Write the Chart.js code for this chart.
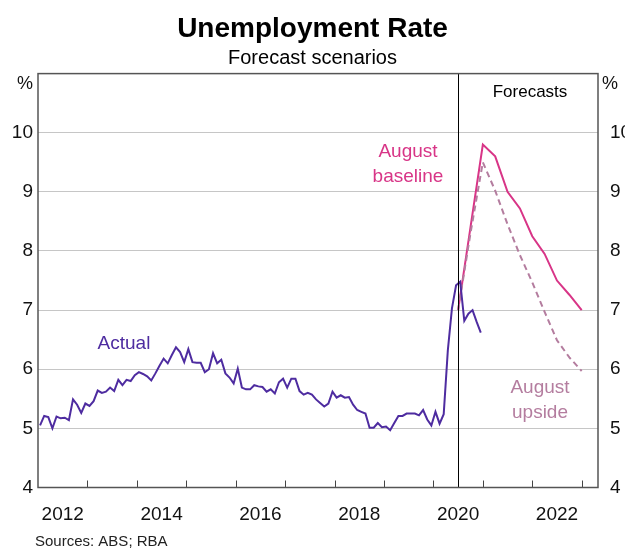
<!DOCTYPE html>
<html>
<head>
<meta charset="utf-8">
<script src="https://cdn.jsdelivr.net/npm/chart.js@4"></script>
<style>
  html, body { margin:0; padding:0; background:#fff; }
  #wrap { width:625px; height:548px; }
</style>
</head>
<body>
<div id="wrap"><canvas id="chart" width="625" height="548"></canvas></div>
<script>
/* ---- data ---- */
const actualStart = 2012;   // monthly, from Jan 2012
const actualRate = [
  5.05, 5.21, 5.19, 5.00, 5.20, 5.17, 5.18, 5.14, 5.49, 5.40, 5.26, 5.42,
  5.38, 5.46, 5.64, 5.60, 5.62, 5.69, 5.63, 5.82, 5.73, 5.82, 5.80, 5.90,
  5.95, 5.92, 5.88, 5.81, 5.93, 6.06, 6.18, 6.10, 6.24, 6.37, 6.29, 6.12,
  6.34, 6.12, 6.11, 6.11, 5.95, 6.00, 6.27, 6.10, 6.16, 5.93, 5.86, 5.76,
  6.01, 5.69, 5.66, 5.66, 5.73, 5.71, 5.70, 5.62, 5.66, 5.59, 5.78, 5.84,
  5.69, 5.84, 5.84, 5.63, 5.57, 5.60, 5.57, 5.49, 5.43, 5.37, 5.42, 5.62,
  5.52, 5.56, 5.52, 5.53, 5.40, 5.31, 5.28, 5.25, 5.01, 5.01, 5.09, 5.02,
  5.03, 4.97, 5.09, 5.21, 5.21, 5.25, 5.25, 5.25, 5.22, 5.31, 5.15, 5.05,
  5.28, 5.08, 5.24, 6.32, 7.03, 7.42, 7.48, 6.82, 6.94, 7.00, 6.80, 6.62
];
const forecastQuarters = ['2020-Q2','2020-Q3','2020-Q4','2021-Q1','2021-Q2','2021-Q3',
                          '2021-Q4','2022-Q1','2022-Q2','2022-Q3','2022-Q4'];
const baselineRate = [7.0, 8.4, 9.8, 9.6, 9.0, 8.72, 8.25, 7.95, 7.5, 7.26, 7.0];
const upsideRate   = [7.0, 8.3, 9.5, 9.02, 8.45, 7.93, 7.47, 6.97, 6.49, 6.2, 5.97];
const yearLabels   = [2012, 2014, 2016, 2018, 2020, 2022];
const yTicks       = [4, 5, 6, 7, 8, 9, 10];
const forecastStart = '2020-Q2';

const C_ACTUAL = '#4e2ca0';
const C_BASE   = '#d83587';
const C_UP     = '#b47d9f';
const FONT     = '"Liberation Sans", Arial, sans-serif';

/* month index -> decimal year (mid-month); quarter -> end of quarter */
const monthX   = i => actualStart + (i + 0.5) / 12;
const quarterX = q => +q.slice(0, 4) + +q.slice(6) / 4;

const actualPts   = actualRate.map((v, i) => ({ x: monthX(i), y: v }));
const baselinePts = baselineRate.map((v, i) => ({ x: quarterX(forecastQuarters[i]), y: v }));
const upsidePts   = upsideRate.map((v, i) => ({ x: quarterX(forecastQuarters[i]), y: v }));

/* frame, inward year ticks, forecast divider and labels */
const decor = {
  id: 'decor',
  afterDraw(chart) {
    const { ctx, chartArea: a, scales: { x, y } } = chart;
    ctx.save();
    // forecast divider
    const fx = Math.round(x.getPixelForValue(quarterX(forecastStart))) + 0.5;
    ctx.strokeStyle = '#000'; ctx.lineWidth = 1;
    ctx.beginPath(); ctx.moveTo(fx, a.top); ctx.lineTo(fx, a.bottom); ctx.stroke();
    // year ticks pointing up
    ctx.strokeStyle = '#444';
    for (let yr = Math.ceil(x.min + 0.01); yr < x.max; yr++) {
      const px = Math.round(x.getPixelForValue(yr)) + 0.5;
      ctx.beginPath(); ctx.moveTo(px, a.bottom); ctx.lineTo(px, a.bottom - 7); ctx.stroke();
    }
    // frame
    ctx.strokeStyle = '#555'; ctx.lineWidth = 1.5;
    ctx.strokeRect(a.left, a.top, a.right - a.left, a.bottom - a.top);

    ctx.textBaseline = 'alphabetic';
    // % units
    ctx.fillStyle = '#111'; ctx.font = '18px ' + FONT;
    ctx.textAlign = 'right'; ctx.fillText('%', a.left - 5, 89);
    ctx.textAlign = 'left';  ctx.fillText('%', a.right + 4, 89);
    // labels
    ctx.textAlign = 'center';
    ctx.font = '17px ' + FONT; ctx.fillStyle = '#000';
    ctx.fillText('Forecasts', 530, 97);
    ctx.font = '19px ' + FONT;
    ctx.fillStyle = C_ACTUAL; ctx.fillText('Actual', 124, 349);
    ctx.fillStyle = C_BASE;   ctx.fillText('August', 408, 157); ctx.fillText('baseline', 408, 182);
    ctx.fillStyle = C_UP;     ctx.fillText('August', 540, 393); ctx.fillText('upside', 540, 418);
    // source
    ctx.textAlign = 'left'; ctx.fillStyle = '#222'; ctx.font = '15px ' + FONT;
    ctx.fillText('Sources: ABS; RBA', 35, 546);
    ctx.restore();
  }
};

const yAxis = (pos, width, pad) => ({
  type: 'linear', position: pos, min: 4, max: 11,
  afterBuildTicks: s => { s.ticks = yTicks.map(v => ({ value: v })); },
  afterFit: s => { s.width = width; },
  grid: pos === 'left' ? { color: '#c6c6c6', drawTicks: false } : { display: false },
  border: { display: false },
  ticks: { color: '#111', font: { size: 19 }, padding: pad }
});

Chart.defaults.font.family = FONT;

new Chart(document.getElementById('chart'), {
  type: 'line',
  data: {
    datasets: [
      { data: actualPts,   borderColor: C_ACTUAL, borderWidth: 2, pointRadius: 0 },
      { data: upsidePts,   borderColor: C_UP,     borderWidth: 2, pointRadius: 0, borderDash: [6, 4] },
      { data: baselinePts, borderColor: C_BASE,   borderWidth: 2, pointRadius: 0 }
    ]
  },
  options: {
    responsive: false,
    animation: false,
    plugins: {
      legend: { display: false },
      tooltip: { enabled: false },
      title: {
        display: true, text: 'Unemployment Rate', color: '#000',
        font: { size: 28, weight: 'bold' }, padding: { top: 12, bottom: 0 }
      },
      subtitle: {
        display: true, text: 'Forecast scenarios', color: '#000',
        font: { size: 20 }, padding: { top: 1, bottom: 3 }
      }
    },
    scales: {
      x: {
        type: 'linear', min: 2012, max: 2023.33,
        afterBuildTicks: s => { s.ticks = yearLabels.map(v => ({ value: v + 0.5 })); },
        afterFit: s => { s.height = 60.5; },
        grid: { display: false },
        border: { display: false },
        ticks: { color: '#111', font: { size: 19 }, padding: 8, maxRotation: 0, autoSkip: false,
                 callback: v => String(Math.floor(v)) }
      },
      y:  yAxis('left', 38, 5),
      y2: yAxis('right', 27, 4)
    }
  },
  plugins: [decor]
});
</script>
</body>
</html>
